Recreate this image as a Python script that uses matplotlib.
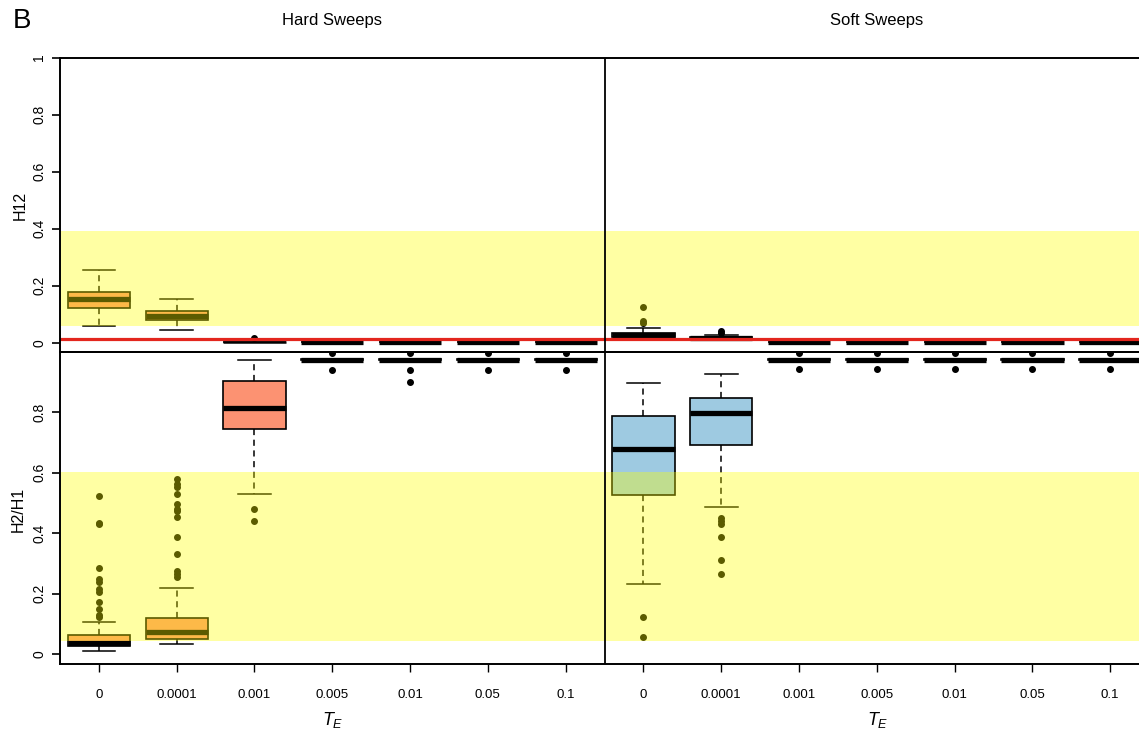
import matplotlib
matplotlib.use("Agg")
import matplotlib.pyplot as plt

plt.rcParams['font.family'] = ['Liberation Sans', 'DejaVu Sans']
plt.rcParams['mathtext.fontset'] = 'custom'
plt.rcParams['mathtext.it'] = 'Liberation Sans:italic'
plt.rcParams['mathtext.rm'] = 'Liberation Sans'

# ---------------- data ----------------
te_labels = ['0', '0.0001', '0.001', '0.005', '0.01', '0.05', '0.1']
groups = ['Hard Sweeps', 'Soft Sweeps']

# H12 -- hard sweeps
h12_hard_q1 = [0.123, 0.081, 0.002, 0.002, 0.002, 0.002, 0.002]
h12_hard_med = [0.154, 0.095, 0.003, 0.003, 0.003, 0.003, 0.003]
h12_hard_q3 = [0.179, 0.112, 0.004, 0.004, 0.004, 0.004, 0.004]
h12_hard_lo = [0.060, 0.046, 0.002, 0.002, 0.002, 0.002, 0.002]
h12_hard_hi = [0.256, 0.154, 0.004, 0.004, 0.004, 0.004, 0.004]
h12_hard_fliers = [[], [], [0.018], [], [], [], []]

# H12 -- soft sweeps
h12_soft_q1 = [0.022, 0.014, 0.002, 0.002, 0.002, 0.002, 0.002]
h12_soft_med = [0.028, 0.018, 0.003, 0.003, 0.003, 0.003, 0.003]
h12_soft_q3 = [0.035, 0.021, 0.004, 0.004, 0.004, 0.004, 0.004]
h12_soft_lo = [0.012, 0.010, 0.002, 0.002, 0.002, 0.002, 0.002]
h12_soft_hi = [0.053, 0.027, 0.004, 0.004, 0.004, 0.004, 0.004]
h12_soft_fliers = [[0.069, 0.076, 0.124], [0.036, 0.040], [], [], [], [], []]

# H2/H1 -- hard sweeps
h2h1_hard_q1 = [0.027, 0.052, 0.743, 0.972, 0.972, 0.972, 0.972]
h2h1_hard_med = [0.038, 0.073, 0.813, 0.973, 0.973, 0.973, 0.973]
h2h1_hard_q3 = [0.064, 0.121, 0.902, 0.975, 0.975, 0.975, 0.975]
h2h1_hard_lo = [0.012, 0.033, 0.528, 0.972, 0.972, 0.972, 0.972]
h2h1_hard_hi = [0.108, 0.219, 0.972, 0.975, 0.975, 0.975, 0.975]
h2h1_hard_fliers = [
    [0.522, 0.435, 0.429, 0.285, 0.248, 0.240, 0.215, 0.206, 0.174, 0.151, 0.129, 0.122],
    [0.578, 0.562, 0.553, 0.528, 0.498, 0.480, 0.473, 0.454, 0.388, 0.331, 0.275, 0.267, 0.254],
    [0.479, 0.440],
    [0.994, 0.940],
    [0.994, 0.940, 0.898],
    [0.994, 0.940],
    [0.994, 0.940],
]

# H2/H1 -- soft sweeps
h2h1_soft_q1 = [0.526, 0.691, 0.972, 0.972, 0.972, 0.972, 0.972]
h2h1_soft_med = [0.677, 0.797, 0.973, 0.973, 0.973, 0.973, 0.973]
h2h1_soft_q3 = [0.787, 0.847, 0.975, 0.975, 0.975, 0.975, 0.975]
h2h1_soft_lo = [0.232, 0.485, 0.972, 0.972, 0.972, 0.972, 0.972]
h2h1_soft_hi = [0.897, 0.925, 0.975, 0.975, 0.975, 0.975, 0.975]
h2h1_soft_fliers = [
    [0.125, 0.058],
    [0.449, 0.440, 0.430, 0.386, 0.311, 0.265],
    [0.995, 0.941], [0.995, 0.941], [0.995, 0.941], [0.995, 0.941], [0.995, 0.941],
]

h12_band = (0.060, 0.393)
h2h1_band = (0.044, 0.601)
h12_threshold = 0.013

# ---------------- styling ----------------
HARD_COLOR = '#FC9272'
SOFT_COLOR = '#9ECAE1'
BAND_COLOR = '#FFFF00'
BAND_ALPHA = 0.36
RED = '#E3261E'

W, H = 1139, 735
fig = plt.figure(figsize=(W / 100, H / 100), dpi=100)

def px_x(x):
    return x / W

def px_y(y):
    return 1 - y / H

left = px_x(60)
ax_top = fig.add_axes([left, px_y(352), 1 - left, (352 - 57.5) / H])
ax_bot = fig.add_axes([left, px_y(663.5), 1 - left, (663.5 - 352) / H])
ax_bot.patch.set_visible(False)

positions = list(range(1, 15))


def make_stats(q1, med, q3, lo, hi, fl):
    return [dict(q1=a, med=b, q3=c, whislo=d, whishi=e, fliers=f)
            for a, b, c, d, e, f in zip(q1, med, q3, lo, hi, fl)]


def draw(ax, stats, band, ylim):
    res = ax.bxp(stats, positions=positions, widths=0.8, capwidths=0.42,
                 patch_artist=True, manage_ticks=False,
                 boxprops=dict(edgecolor='black', linewidth=1.2),
                 medianprops=dict(color='black', linewidth=3.8, solid_capstyle='butt'),
                 whiskerprops=dict(color='black', linewidth=1.1, linestyle=(0, (4, 3))),
                 capprops=dict(color='black', linewidth=1.1),
                 flierprops=dict(marker='o', markerfacecolor='black',
                                 markeredgecolor='black', markersize=4),
                 zorder=2)
    for i, patch in enumerate(res['boxes']):
        patch.set_facecolor(HARD_COLOR if i < 7 else SOFT_COLOR)
    for i, st in enumerate(stats):
        if st['whislo'] >= st['q1'] and st['whishi'] <= st['q3']:
            for c in res['caps'][2 * i:2 * i + 2]:
                c.set_visible(False)
    ax.axhspan(band[0], band[1], color=BAND_COLOR, alpha=BAND_ALPHA, lw=0, zorder=3)
    ax.axvline(7.5, color='black', lw=1.3, zorder=5)
    ax.set_xlim(0.5, 14.37)
    ax.set_ylim(*ylim)
    ax.spines['right'].set_visible(False)
    for s in ['left', 'top', 'bottom']:
        ax.spines[s].set_linewidth(1.4)
        ax.spines[s].set_zorder(6)
    return res


top_stats = make_stats(h12_hard_q1 + h12_soft_q1, h12_hard_med + h12_soft_med,
                       h12_hard_q3 + h12_soft_q3, h12_hard_lo + h12_soft_lo,
                       h12_hard_hi + h12_soft_hi, h12_hard_fliers + h12_soft_fliers)
bot_stats = make_stats(h2h1_hard_q1 + h2h1_soft_q1, h2h1_hard_med + h2h1_soft_med,
                       h2h1_hard_q3 + h2h1_soft_q3, h2h1_hard_lo + h2h1_soft_lo,
                       h2h1_hard_hi + h2h1_soft_hi, h2h1_hard_fliers + h2h1_soft_fliers)

res_top = draw(ax_top, top_stats, h12_band, (-0.032, 1.0))
res_top['medians'][2].set_linewidth(1.8)
ax_top.axhline(h12_threshold, color=RED, lw=2.3, zorder=4)
res_bot = draw(ax_bot, bot_stats, h2h1_band, (-0.03, 0.998))

# ticks
ytop = [0, 0.2, 0.4, 0.6, 0.8, 1.0]
ax_top.set_yticks(ytop)
ax_top.set_yticklabels(['0', '0.2', '0.4', '0.6', '0.8', '1'])
ybot = [0, 0.2, 0.4, 0.6, 0.8]
ax_bot.set_yticks(ybot)
ax_bot.set_yticklabels(['0', '0.2', '0.4', '0.6', '0.8'])
for ax in (ax_top, ax_bot):
    ax.tick_params(axis='y', length=6, width=1.2, labelsize=10, pad=4, labelrotation=90)
    for lbl in ax.get_yticklabels():
        lbl.set_va('center')
ax_top.tick_params(axis='x', bottom=False, labelbottom=False)
ax_bot.set_xticks(positions)
ax_bot.set_xticklabels(te_labels + te_labels)
ax_bot.tick_params(axis='x', length=6, width=1.0, labelsize=9.5, pad=12)

# texts
fig.text(px_x(22), px_y(21), 'B', fontsize=20, ha='center', va='center')
fig.text(px_x(332), px_y(21), groups[0], fontsize=12, ha='center', va='center')
fig.text(px_x(877), px_y(21), groups[1], fontsize=12, ha='center', va='center')
fig.text(px_x(20), px_y(205), 'H12', fontsize=11.5, rotation=90, ha='center', va='center')
fig.text(px_x(18), px_y(509), 'H2/H1', fontsize=11.5, rotation=90, ha='center', va='center')
fig.text(px_x(333), px_y(720), r'$T_E$', fontsize=13, ha='center', va='center')
fig.text(px_x(878), px_y(720), r'$T_E$', fontsize=13, ha='center', va='center')

fig.savefig('out.png', dpi=100)
